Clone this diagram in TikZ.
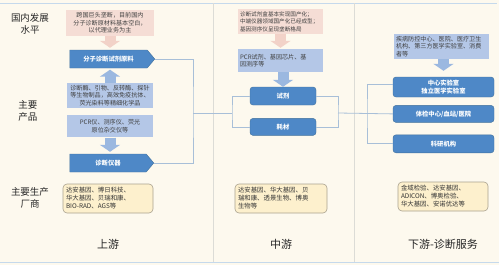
\documentclass[tikz,border=0pt]{standalone}
\usepackage{fontspec}
\setmainfont{Noto Sans CJK SC}
\usepackage{tikz}
\usetikzlibrary{shapes.symbols, arrows.meta, positioning}
\definecolor{bgcream}{HTML}{FDF9EE}
\definecolor{frameblue}{HTML}{C5D9EC}
\definecolor{sepgray}{HTML}{DCDCD6}
\definecolor{pinkfill}{HTML}{F5DDD5}
\definecolor{pinkarr}{HTML}{F2D2C8}
\definecolor{paleblue}{HTML}{B4C7E7}
\definecolor{midblue}{HTML}{9BB8E0}
\definecolor{darkblue}{HTML}{4E88C7}
\definecolor{darkline}{HTML}{41719C}
\definecolor{makerfill}{HTML}{FDF0CD}
\definecolor{makerline}{HTML}{A9A28F}
\definecolor{linkblue}{HTML}{A8BFD8}
\newcommand{\boxcn}{\fontsize{6.1}{7.6}\selectfont}
\newcommand{\smallcn}{\fontsize{5.6}{7.2}\selectfont}
\newcommand{\makercn}{\fontsize{6.4}{8}\selectfont}
\newcommand{\boldcn}{\fontsize{6.3}{8}\selectfont\bfseries}
\newcommand{\rowcn}{\fontsize{9.5}{11.5}\selectfont}
\newcommand{\titlecn}{\fontsize{11}{13}\selectfont}

\begin{document}
\begin{tikzpicture}[
  x=1pt, y=-1pt,
  pinkbox/.style={fill=pinkfill, text=black!75, font=\boxcn, inner sep=2pt},
  lightbox/.style={fill=paleblue, text=black!75, font=\boxcn, inner sep=2pt},
  signalbox/.style={shape=signal, signal to=east, signal pointer angle=100, fill=darkblue, draw=darkline, text=white, font=\boldcn, minimum width=85pt, minimum height=18pt, inner sep=1pt},
  darkbox/.style={rounded corners=3pt, fill=darkblue, draw=darkline, line width=0.4pt, text=white, font=\boldcn, align=center, inner sep=1pt},
  makerbox/.style={rounded corners=4pt, fill=makerfill, draw=makerline, line width=0.6pt, text=black!80, font=\makercn, align=left, inner sep=3pt},
  rowlbl/.style={font=\rowcn, text=black!85, align=center},
  colttl/.style={font=\titlecn, text=black!85},
  link/.style={draw=linkblue, line width=0.8pt},
  blockarr/.style={line width=11pt, -{Triangle[width=20pt,length=7pt]}},
]
\fill[bgcream] (0,0) rectangle (499,265);
\useasboundingbox (0,0) rectangle (499,265);
\draw[frameblue, line width=1pt] (0,3) -- (497,3);
\draw[frameblue, line width=1pt] (0,262) -- (499,262);
\draw[sepgray, line width=0.8pt] (213,3) -- (213,262);
\draw[sepgray, line width=0.8pt] (354,3) -- (354,262);

\node[rowlbl] (lvl)  at (30,24)   {国内发展\\水平};
\node[rowlbl] (prod) at (28,111)  {主要\\产品};
\node[rowlbl] (mkr)  at (30,198)  {主要生产\\厂商};

% upstream
\node[pinkbox, text width=84pt, align=center, minimum height=26pt] (uplevel) at (110,23)
  {跨国巨头垄断，目前国内\\分子诊断原材料基本空白，\\以代理业务为主};
\node[signalbox] (rawmat) at (108.5,59) {分子诊断试剂原料};
\node[lightbox, text width=82pt, align=center, minimum height=25pt] (biochem) at (110,95.5)
  {诊断酶、引物、反转酶、探针\\等生物制品，高效免疫抗体、\\荧光染料等精细化学品};
\node[lightbox, text width=82pt, align=center, minimum height=22pt, below=7pt of biochem] (devices)
  {PCR仪、测序仪、荧光\\原位杂交仪等};
\node[signalbox, minimum width=84pt] (instr) at (108,163) {诊断仪器};
\node[makerbox, text width=84pt, minimum height=29pt] (upmaker) at (108,198.5)
  {达安基因、博日科技、\\华大基因、贝瑞和康、\\BIO-RAD、AGS等};
\node[colttl, below=22pt of upmaker] (upttl) {上游};

% midstream
\node[pinkbox, text width=81pt, align=left, minimum height=23pt] (midlevel) at (280.5,21.5)
  {\smallcn 诊断试剂盒基本实现国产化；\\中端仪器领域国产化已经成型；\\基因测序仪呈现垄断格局};
\node[lightbox, text width=81pt, align=left, minimum height=23pt] (midprod) at (280.5,60.5)
  {PCR试剂、基因芯片、基\\因测序等};
\node[darkbox, minimum width=66pt, minimum height=18pt] (reagent) at (283,96) {试剂};
\node[darkbox, minimum width=66pt, minimum height=17pt, below=13pt of reagent] (consum) {耗材};
\node[makerbox, text width=86pt, minimum height=29pt] (midmaker) at (281,198.5)
  {达安基因、华大基因、贝\\瑞和康、透景生物、博奥\\生物等};
\node[colttl, below=22pt of midmaker] (midttl) {中游};

% downstream
\node[lightbox, text width=91pt, align=left, minimum height=25pt] (users) at (441.5,46.5)
  {疾病防控中心、医院、医疗卫生\\机构、第三方医学实验室、消费\\者等};
\node[darkbox, minimum width=101pt, minimum height=20pt] (central) at (443.5,87) {中心实验室\\独立医学实验室};
\node[darkbox, minimum width=101pt, minimum height=17pt, below=8pt of central] (checkup) {体检中心/血站/医院};
\node[darkbox, minimum width=101pt, minimum height=18pt, below=12pt of checkup] (research) {科研机构};
\node[makerbox, text width=84pt, minimum height=29pt] (dnmaker) at (443,196.5)
  {金域检验、达安基因、\\ADICON、博奥检验、\\华大基因、安诺优达等};
\node[colttl, below=24pt of dnmaker] (dnttl) {下游-诊断服务};

% block arrows
\draw[blockarr, draw=pinkarr, shorten >=2pt] (uplevel.south) -- (uplevel.south |- rawmat.north);
\draw[blockarr, draw=midblue, shorten >=1.5pt] (biochem.north) -- (biochem.north |- rawmat.south);
\draw[blockarr, draw=midblue, shorten >=2pt] (devices.south) -- (devices.south |- instr.north);
\draw[blockarr, draw=pinkarr, shorten >=1pt] (midlevel.south) -- (midprod.north);
\draw[blockarr, draw=midblue] (midprod.south -| reagent) -- (reagent.north);
\draw[blockarr, draw=midblue, shorten >=6pt] (users.south -| central) -- (central.north);

% connectors
\coordinate (upjoin)   at (193,113);
\coordinate (midjoinL) at (232,113);
\coordinate (midjoinR) at (338,113);
\coordinate (dnjoin)   at (367,113);
\draw[link] (rawmat.east) -| (upjoin) |- (instr.east);
\draw[link] (upjoin) -- (midjoinL);
\draw[link] (reagent.west) -| (midjoinL) |- (consum.west);
\draw[link] (reagent.east) -| (midjoinR) |- (consum.east);
\draw[link] (midjoinR) -- (checkup.west);
\draw[link] ([yshift=3pt]central.west) -| (dnjoin) |- (research.west);
\end{tikzpicture}
\end{document}
